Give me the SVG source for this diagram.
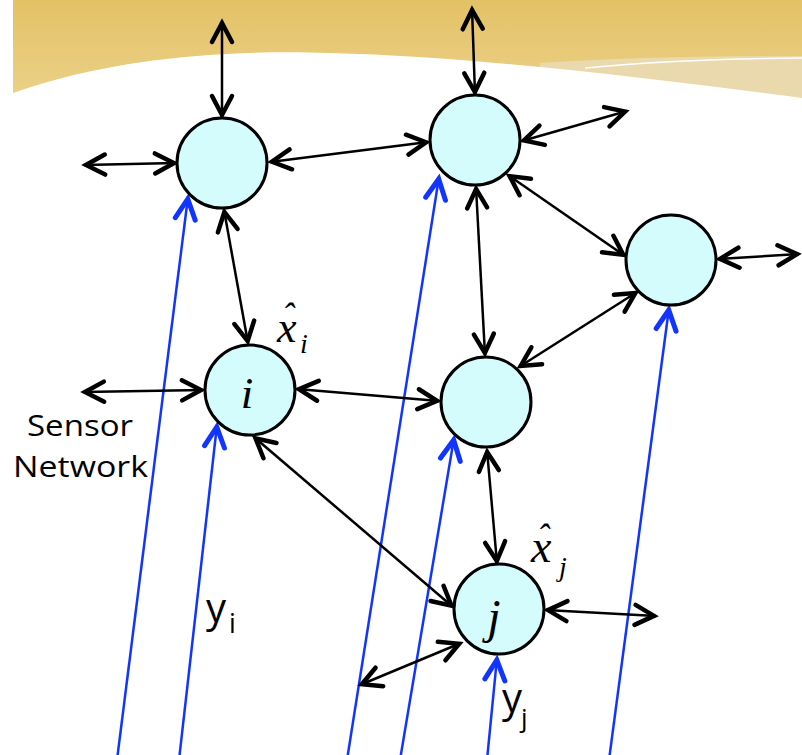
<svg xmlns="http://www.w3.org/2000/svg" width="802" height="755" viewBox="0 0 802 755">
<defs>
<linearGradient id="gold" x1="0" y1="0" x2="0" y2="1">
<stop offset="0" stop-color="#e3c166"/>
<stop offset="1" stop-color="#ebd189"/>
</linearGradient>
<marker id="ah" markerUnits="userSpaceOnUse" viewBox="-30 -20 40 40" refX="2" refY="0" markerWidth="40" markerHeight="40" orient="auto-start-reverse" overflow="visible">
<path d="M-19,-10 L0,0 L-19,10" fill="none" stroke="#000" stroke-width="4.5" stroke-linecap="round" stroke-linejoin="miter"/>
</marker>
<marker id="bh" markerUnits="userSpaceOnUse" viewBox="-30 -20 40 40" refX="2" refY="0" markerWidth="40" markerHeight="40" orient="auto" overflow="visible">
<path d="M-20,-10 L0,0 L-20,10" fill="none" stroke="#1234ff" stroke-width="5" stroke-linecap="round" stroke-linejoin="miter"/>
</marker>
</defs>
<style>
.bk{stroke:#000;stroke-width:2.5;fill:none;marker-start:url(#ah);marker-end:url(#ah)}
.bl{stroke:#1234ff;stroke-width:2.5;fill:none;marker-end:url(#bh)}
.nd{fill:#d4fcfc;stroke:#000;stroke-width:3}
.ser{font-family:"Liberation Serif","Times New Roman",serif;font-style:italic;fill:#000}
.san{font-family:"Open Sans","DejaVu Sans",sans-serif;fill:#000}
</style>
<g id="background">
<rect x="13" y="0" width="789" height="100" fill="url(#gold)"/>
<path d="M540,63 Q650,56 802,56 L802,100 L540,100 Z" fill="#ead9ac"/>
<path d="M13,93 C120,55 240,50 330,53 C480,57 650,78 802,98 L802,130 L13,130 Z" fill="#fff"/>
<path d="M585,68 Q680,59 802,58" fill="none" stroke="#fff" stroke-width="1.5"/>
</g>
<g id="connectors">
<line class="bl" x1="117" y1="760" x2="188" y2="197"/>
<line class="bl" x1="179" y1="760" x2="217" y2="425"/>
<line class="bl" x1="347" y1="760" x2="439" y2="177"/>
<line class="bl" x1="400" y1="760" x2="454" y2="438"/>
<line class="bl" x1="487" y1="760" x2="497" y2="658"/>
<line class="bl" x1="609" y1="760" x2="669" y2="308"/>
<line class="bk" x1="222" y1="21" x2="222" y2="117"/>
<line class="bk" x1="472" y1="8" x2="475" y2="94"/>
<line class="bk" x1="84" y1="165" x2="176" y2="163"/>
<line class="bk" x1="270" y1="162" x2="428" y2="142"/>
<line class="bk" x1="224" y1="210" x2="248" y2="343"/>
<line class="bk" x1="522" y1="141" x2="627" y2="111"/>
<line class="bk" x1="508" y1="175" x2="625" y2="256"/>
<line class="bk" x1="718" y1="259" x2="799" y2="254"/>
<line class="bk" x1="637" y1="292" x2="519" y2="367"/>
<line class="bk" x1="476" y1="187" x2="485" y2="355"/>
<line class="bk" x1="83" y1="392" x2="203" y2="390"/>
<line class="bk" x1="297" y1="389" x2="439" y2="401"/>
<line class="bk" x1="254" y1="437" x2="453" y2="607"/>
<line class="bk" x1="487" y1="450" x2="497" y2="563"/>
<line class="bk" x1="546" y1="610" x2="656" y2="616"/>
<line class="bk" x1="461" y1="643" x2="360" y2="685"/>
</g>
<g id="node-a"><circle class="nd" cx="222" cy="163" r="45"/></g>
<g id="node-b"><circle class="nd" cx="475" cy="140" r="45"/></g>
<g id="node-c"><circle class="nd" cx="671" cy="260" r="45"/></g>
<g id="node-i"><circle class="nd" cx="250" cy="390" r="45"/>
<text class="ser" x="247" y="408" font-size="45" text-anchor="middle">i</text></g>
<g id="node-d"><circle class="nd" cx="486" cy="402" r="45"/></g>
<g id="node-j"><circle class="nd" cx="499" cy="609" r="45"/>
<text class="ser" x="494" y="633" font-size="48" text-anchor="middle">j</text></g>
<g id="labels">
<text class="ser" x="277" y="342" font-size="44">x<tspan x="282" y="328" font-size="36">ˆ</tspan><tspan x="300" y="353" font-size="28">i</tspan></text>
<text class="ser" x="531" y="562" font-size="46">x<tspan x="537" y="549" font-size="36">ˆ</tspan><tspan x="559" y="576" font-size="28">j</tspan></text>
<text class="san" x="206" y="622" font-size="40">y<tspan x="229" y="633" font-size="27">i</tspan></text>
<text class="san" x="502" y="712" font-size="40">y<tspan x="521" y="727" font-size="26">j</tspan></text>
<text class="san" x="27" y="436" font-size="29" textLength="106" lengthAdjust="spacingAndGlyphs">Sensor</text>
<text class="san" x="13" y="477" font-size="29" textLength="135" lengthAdjust="spacingAndGlyphs">Network</text>
</g>
</svg>
